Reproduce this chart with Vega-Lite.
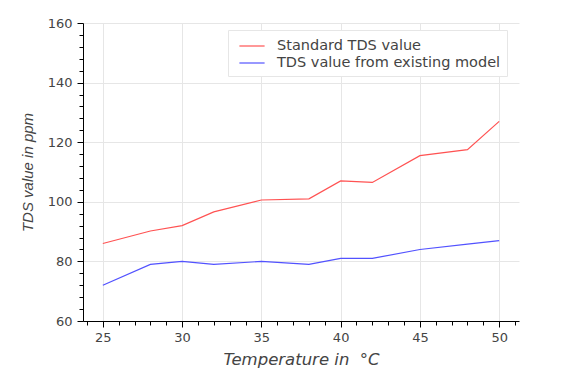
{
  "$schema": "https://vega.github.io/schema/vega-lite/v6.json",
  "autosize": "none",
  "width": 436,
  "height": 298,
  "padding": {"left": 83, "top": 23, "right": 58, "bottom": 50},
  "background": "white",
  "config": {
    "view": {"stroke": null},
    "font": "DejaVu Sans"
  },
  "data": {
    "values": [
      {"t": 25, "v": 86, "s": "Standard TDS value"},
      {"t": 28, "v": 90.2, "s": "Standard TDS value"},
      {"t": 30, "v": 92, "s": "Standard TDS value"},
      {"t": 32, "v": 96.6, "s": "Standard TDS value"},
      {"t": 35, "v": 100.6, "s": "Standard TDS value"},
      {"t": 38, "v": 101, "s": "Standard TDS value"},
      {"t": 40, "v": 107, "s": "Standard TDS value"},
      {"t": 42, "v": 106.5, "s": "Standard TDS value"},
      {"t": 45, "v": 115.5, "s": "Standard TDS value"},
      {"t": 48, "v": 117.5, "s": "Standard TDS value"},
      {"t": 50, "v": 127, "s": "Standard TDS value"},
      {"t": 25, "v": 72, "s": "TDS value from existing model"},
      {"t": 28, "v": 79, "s": "TDS value from existing model"},
      {"t": 30, "v": 80, "s": "TDS value from existing model"},
      {"t": 32, "v": 79, "s": "TDS value from existing model"},
      {"t": 35, "v": 80, "s": "TDS value from existing model"},
      {"t": 38, "v": 79, "s": "TDS value from existing model"},
      {"t": 40, "v": 81, "s": "TDS value from existing model"},
      {"t": 42, "v": 81, "s": "TDS value from existing model"},
      {"t": 45, "v": 84, "s": "TDS value from existing model"},
      {"t": 48, "v": 85.8, "s": "TDS value from existing model"},
      {"t": 50, "v": 87, "s": "TDS value from existing model"}
    ]
  },
  "mark": {"type": "line", "strokeWidth": 1.2},
  "encoding": {
    "x": {
      "field": "t",
      "type": "quantitative",
      "scale": {"domain": [23.75, 51.25], "nice": false, "zero": false},
      "axis": {
        "values": [24,25,26,27,28,29,30,31,32,33,34,35,36,37,38,39,40,41,42,43,44,45,46,47,48,49,50,51],
        "labelExpr": "datum.value % 5 === 0 ? datum.label : ''",
        "tickSize": {"condition": {"test": "datum.value % 5 === 0", "value": 6}, "value": 4},
        "gridOpacity": {"condition": {"test": "datum.value % 5 === 0", "value": 1}, "value": 0},
        "gridColor": "#e6e6e6",
        "domainColor": "black",
        "domainWidth": 1,
        "tickColor": "black",
        "labelFont": "DejaVu Sans",
        "labelFontSize": 13,
        "labelColor": "#444444",
        "labelPadding": 4,
        "labelFlush": false,
        "title": "Temperature in \u00a0°C",
        "titleFont": "DejaVu Sans",
        "titleFontSize": 16.5,
        "titleFontStyle": "italic",
        "titleFontWeight": "normal",
        "titleColor": "#444444",
        "titlePadding": 7
      }
    },
    "y": {
      "field": "v",
      "type": "quantitative",
      "scale": {"domain": [60, 160], "nice": false, "zero": false},
      "axis": {
        "values": [60,64,68,72,76,80,84,88,92,96,100,104,108,112,116,120,124,128,132,136,140,144,148,152,156,160],
        "labelExpr": "datum.value % 20 === 0 ? datum.label : ''",
        "tickSize": {"condition": {"test": "datum.value % 20 === 0", "value": 6}, "value": 4},
        "gridOpacity": {"condition": {"test": "datum.value % 20 === 0", "value": 1}, "value": 0},
        "gridColor": "#e6e6e6",
        "domainColor": "black",
        "domainWidth": 1,
        "tickColor": "black",
        "labelFont": "DejaVu Sans",
        "labelFontSize": 13,
        "labelColor": "#444444",
        "labelPadding": 5,
        "labelFlush": false,
        "title": "TDS value in ppm",
        "titleFont": "Liberation Sans",
        "titleFontSize": 15,
        "titleFontStyle": "italic",
        "titleFontWeight": "normal",
        "titleColor": "#444444",
        "titlePadding": 12
      }
    },
    "color": {
      "field": "s",
      "type": "nominal",
      "scale": {
        "domain": ["Standard TDS value", "TDS value from existing model"],
        "range": ["#ff5252", "#5252ff"]
      },
      "legend": {
        "title": null,
        "orient": "none",
        "legendX": 145,
        "legendY": 7,
        "padding": 6,
        "strokeColor": "#e6e6e6",
        "fillColor": "white",
        "symbolType": "M-1.4,0L1.4,0",
        "symbolSize": 324,
        "symbolOffset": 8,
        "symbolStrokeWidth": 1.2,
        "labelFont": "DejaVu Sans",
        "labelFontSize": 14.5,
        "labelColor": "#444444",
        "labelOffset": 15,
        "rowPadding": 0,
        "labelLimit": 300
      }
    }
  }
}
